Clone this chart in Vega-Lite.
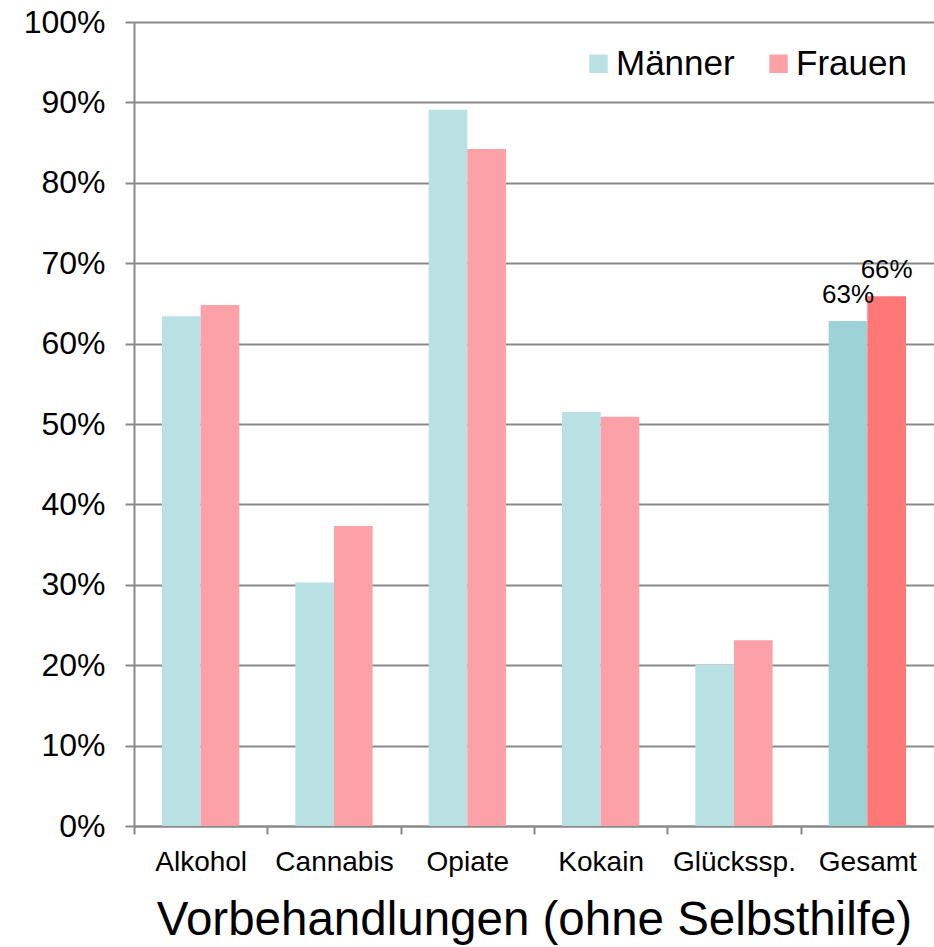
{
  "$schema": "https://vega.github.io/schema/vega-lite/v6.json",
  "width": 800,
  "height": 804,
  "autosize": {"type": "none"},
  "padding": {"left": 134, "top": 22, "right": 0, "bottom": 121},
  "background": "white",
  "config": {
    "font": "Liberation Sans",
    "view": {"stroke": null}
  },
  "data": {
    "values": [
      {"kategorie": "Alkohol", "geschlecht": "Männer", "anteil": 0.634},
      {"kategorie": "Alkohol", "geschlecht": "Frauen", "anteil": 0.648},
      {"kategorie": "Cannabis", "geschlecht": "Männer", "anteil": 0.303},
      {"kategorie": "Cannabis", "geschlecht": "Frauen", "anteil": 0.373},
      {"kategorie": "Opiate", "geschlecht": "Männer", "anteil": 0.891},
      {"kategorie": "Opiate", "geschlecht": "Frauen", "anteil": 0.842},
      {"kategorie": "Kokain", "geschlecht": "Männer", "anteil": 0.515},
      {"kategorie": "Kokain", "geschlecht": "Frauen", "anteil": 0.509},
      {"kategorie": "Glücksspiel", "geschlecht": "Männer", "anteil": 0.201},
      {"kategorie": "Glücksspiel", "geschlecht": "Frauen", "anteil": 0.231},
      {"kategorie": "Gesamt", "geschlecht": "Männer", "anteil": 0.628},
      {"kategorie": "Gesamt", "geschlecht": "Frauen", "anteil": 0.659}
    ]
  },
  "encoding": {
    "x": {
      "field": "kategorie",
      "type": "nominal",
      "sort": ["Alkohol", "Cannabis", "Opiate", "Kokain", "Glücksspiel", "Gesamt"],
      "scale": {"paddingInner": 0.42, "paddingOuter": 0.21},
      "axis": {
        "title": "Vorbehandlungen (ohne Selbsthilfe)",
        "titleFontSize": 47.5,
        "titleFontWeight": "normal",
        "titleColor": "black",
        "titlePadding": 20,
        "labelExpr": "datum.value === 'Glücksspiel' ? 'Glückssp.' : datum.value",
        "labelAngle": 0,
        "labelFontSize": 28,
        "labelColor": "black",
        "labelPadding": 14,
        "tickOffset": -66.67,
        "labelOffset": 66.67,
        "tickSize": 8,
        "tickColor": "#898989",
        "tickWidth": 2,
        "domainColor": "#898989",
        "domainWidth": 2,
        "grid": false
      }
    },
    "xOffset": {
      "field": "geschlecht",
      "type": "nominal",
      "sort": ["Männer", "Frauen"]
    },
    "y": {
      "field": "anteil",
      "type": "quantitative",
      "scale": {"domain": [0, 1], "nice": false},
      "axis": {
        "title": null,
        "format": ".0%",
        "values": [0, 0.1, 0.2, 0.3, 0.4, 0.5, 0.6, 0.7, 0.8, 0.9, 1],
        "labelFontSize": 32,
        "labelColor": "black",
        "labelPadding": 20,
        "tickSize": 9,
        "tickColor": "#898989",
        "tickWidth": 2,
        "domainColor": "#898989",
        "domainWidth": 2,
        "grid": true,
        "gridColor": "#898989",
        "gridWidth": 2
      }
    }
  },
  "layer": [
    {
      "mark": {"type": "bar"},
      "encoding": {
        "color": {
          "condition": [
            {"test": "datum.kategorie === 'Gesamt' && datum.geschlecht === 'Männer'", "value": "#9DD3D7"},
            {"test": "datum.kategorie === 'Gesamt' && datum.geschlecht === 'Frauen'", "value": "#FF7777"}
          ],
          "field": "geschlecht",
          "type": "nominal",
          "scale": {"domain": ["Männer", "Frauen"], "range": ["#B9E0E3", "#FDA1A8"]},
          "legend": {
            "title": null,
            "orient": "none",
            "direction": "horizontal",
            "legendX": 447,
            "legendY": 24,
            "symbolType": "square",
            "symbolSize": 340,
            "symbolStrokeWidth": 0,
            "labelFontSize": 35,
            "labelColor": "black",
            "labelOffset": 0,
            "columnPadding": 26,
            "padding": 0
          }
        }
      }
    },
    {
      "transform": [{"filter": "datum.kategorie === 'Gesamt'"}],
      "mark": {"type": "text", "baseline": "alphabetic", "align": "center", "dy": -18, "fontSize": 26, "color": "black"},
      "encoding": {
        "text": {"field": "anteil", "type": "quantitative", "format": ".0%"}
      }
    }
  ]
}
